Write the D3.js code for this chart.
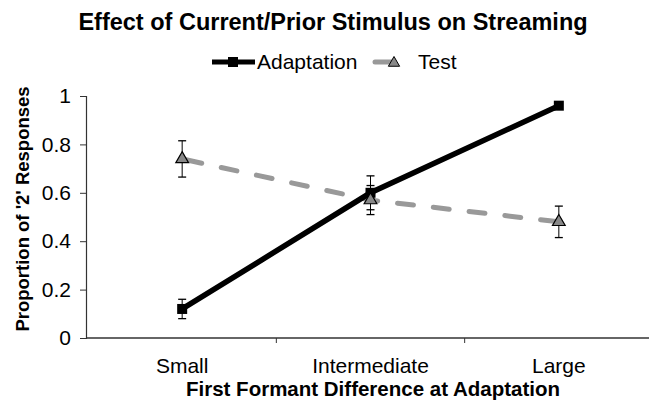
<!DOCTYPE html>
<html>
<head>
<meta charset="utf-8">
<script src="https://cdn.jsdelivr.net/npm/d3@7"></script>
<style>
  body { margin: 0; background: #fff; }
  text { font-family: "Liberation Sans", Arial, sans-serif; fill: #000; }
</style>
</head>
<body>
<svg id="chart" width="649" height="401"></svg>
<script>
var categories = ["Small", "Intermediate", "Large"];
var adaptation = [0.12, 0.60, 0.96];
var adaptationErr = [0.04, 0.07, 0.01];
var test = [0.74, 0.57, 0.48];
var testErr = [0.075, 0.06, 0.065];
var yTicks = [0, 0.2, 0.4, 0.6, 0.8, 1];

var svg = d3.select("#chart");

var y = d3.scaleLinear().domain([0, 1]).range([338, 96]);
var x = d3.scaleBand().domain(categories).range([88, 653]);
function cx(i) { return x(categories[i]) + x.bandwidth() / 2; }

// title
svg.append("text")
    .attr("x", 333).attr("y", 30)
    .attr("text-anchor", "middle")
    .style("font-size", "23.5px").style("font-weight", "bold")
    .text("Effect of Current/Prior Stimulus on Streaming");

// legend
var leg = svg.append("g");
leg.append("line").attr("x1", 212).attr("x2", 255).attr("y1", 62).attr("y2", 62)
    .attr("stroke", "#000").attr("stroke-width", 5);
leg.append("rect").attr("x", 228).attr("y", 57).attr("width", 10).attr("height", 10).attr("fill", "#000");
leg.append("text").attr("x", 257).attr("y", 69).style("font-size", "21px").text("Adaptation");
leg.append("line").attr("x1", 375).attr("x2", 392).attr("y1", 62).attr("y2", 62)
    .attr("stroke", "#999").attr("stroke-width", 5).attr("stroke-linecap", "round");
leg.append("path").attr("d", d3.symbol(d3.symbolTriangle, 55)())
    .attr("transform", "translate(394,63)")
    .attr("fill", "#888").attr("stroke", "#000").attr("stroke-width", 1);
leg.append("text").attr("x", 418).attr("y", 69).style("font-size", "21px").text("Test");

// y axis
var yAxis = svg.append("g")
    .attr("transform", "translate(86,0)")
    .call(d3.axisLeft(y).tickValues(yTicks).tickSize(6).tickPadding(9)
        .tickFormat(function(d) { return d === 0 || d === 1 ? d : d3.format(".1f")(d); }));
yAxis.select(".domain").attr("stroke", "#333").attr("stroke-width", 1.2);
yAxis.selectAll(".tick line").attr("stroke", "#333");
yAxis.selectAll("text").style("font-size", "21px").attr("fill", "#000");

// x axis
var xAxis = svg.append("g").attr("transform", "translate(0,338)");
xAxis.append("line").attr("x1", 86).attr("x2", 649).attr("y1", 0).attr("y2", 0)
    .attr("stroke", "#333").attr("stroke-width", 1.5);
xAxis.selectAll(".sep")
    .data(categories.slice(1))
  .enter().append("line")
    .attr("x1", function(d) { return x(d); })
    .attr("x2", function(d) { return x(d); })
    .attr("y1", 0).attr("y2", 5)
    .attr("stroke", "#333");
xAxis.selectAll(".lab")
    .data(categories)
  .enter().append("text")
    .attr("x", function(d) { return x(d) + x.bandwidth() / 2; })
    .attr("y", 35)
    .attr("text-anchor", "middle")
    .style("font-size", "21px")
    .text(function(d) { return d; });

// axis titles
svg.append("text")
    .attr("x", 373).attr("y", 396)
    .attr("text-anchor", "middle")
    .style("font-size", "20.5px").style("font-weight", "bold")
    .text("First Formant Difference at Adaptation");
svg.append("text")
    .attr("transform", "translate(29,209) rotate(-90)")
    .attr("text-anchor", "middle")
    .style("font-size", "18.5px").style("font-weight", "bold")
    .text("Proportion of '2' Responses");

var line = d3.line()
    .x(function(d, i) { return cx(i); })
    .y(function(d) { return y(d); });

// test series (dashed gray)
svg.append("path").datum(test)
    .attr("d", line)
    .attr("fill", "none").attr("stroke", "#999").attr("stroke-width", 5)
    .attr("stroke-dasharray", "16,20").attr("stroke-linecap", "round")
    .attr("stroke-dashoffset", -4);

// adaptation series (solid black)
svg.append("path").datum(adaptation)
    .attr("d", line)
    .attr("fill", "none").attr("stroke", "#000").attr("stroke-width", 5.5);

function errorBars(vals, errs) {
    var g = svg.append("g");
    vals.forEach(function(v, i) {
        var px = cx(i);
        var e = errs[i];
        g.append("line").attr("x1", px).attr("x2", px)
            .attr("y1", y(v + e)).attr("y2", y(v - e)).attr("stroke", "#000");
        [v + e, v - e].forEach(function(t) {
            g.append("line").attr("x1", px - 4).attr("x2", px + 4)
                .attr("y1", y(t)).attr("y2", y(t)).attr("stroke", "#000").attr("stroke-width", 1.3);
        });
    });
}
errorBars(adaptation, adaptationErr);
errorBars(test, testErr);

// markers
svg.selectAll(".sq")
    .data(adaptation)
  .enter().append("rect")
    .attr("x", function(d, i) { return cx(i) - 5; })
    .attr("y", function(d) { return y(d) - 5; })
    .attr("width", 10).attr("height", 10)
    .attr("fill", "#000");

svg.selectAll(".tri")
    .data(test)
  .enter().append("path")
    .attr("d", d3.symbol(d3.symbolTriangle, 70)())
    .attr("transform", function(d, i) { return "translate(" + cx(i) + "," + y(d) + ")"; })
    .attr("fill", "#888").attr("stroke", "#000").attr("stroke-width", 1.2);
</script>
</body>
</html>
